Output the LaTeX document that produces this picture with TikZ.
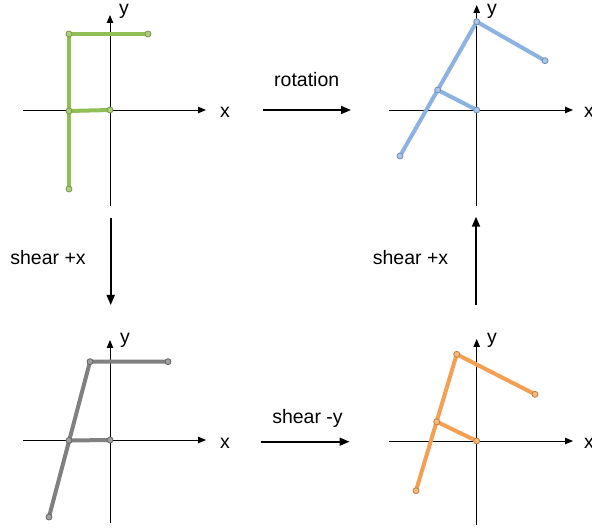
\documentclass[tikz,border=0pt]{standalone}
\usepackage{fontspec}
\setmainfont{Liberation Sans}
\usetikzlibrary{arrows.meta}
\definecolor{fgreen}{RGB}{146,190,86}
\definecolor{fblue}{RGB}{140,178,226}
\definecolor{forange}{RGB}{243,160,82}
\definecolor{fgray}{RGB}{128,128,128}
\begin{document}
\begin{tikzpicture}[x=1pt,y=-1pt,
  axis/.style={line width=0.9pt,-{Triangle[length=8pt,width=6.5pt]}},
  bigarrow/.style={line width=1.7pt,-{Triangle[length=10pt,width=8pt]}},
  fshape/.style={line width=4pt,line join=round,line cap=round},
  lbl/.style={font=\fontsize{19.5}{23}\selectfont,inner sep=0pt,anchor=base},
  dotf/.style={line width=0.8pt,draw=#1!80!black,fill=#1!75!white}]
\useasboundingbox (0,0) rectangle (592,529);
\fill[white] (0,0) rectangle (592,529);
% ---------- axes ----------
\coordinate (tlxa) at (23,110); \coordinate (tlxb) at (206,110);
\coordinate (tlya) at (110,206); \coordinate (tlyb) at (110,15);
\coordinate (trxa) at (389,110); \coordinate (trxb) at (573,110);
\coordinate (trya) at (476.7,206); \coordinate (tryb) at (476.7,5);
\coordinate (blxa) at (23,440); \coordinate (blxb) at (206,440);
\coordinate (blya) at (110,523); \coordinate (blyb) at (110,340);
\coordinate (brxa) at (389,441); \coordinate (brxb) at (573,441);
\coordinate (brya) at (476.7,525); \coordinate (bryb) at (476.7,339);
\foreach \p in {tl,tr,bl,br}{
  \draw[axis] (\p xa) -- (\p xb);
  \draw[axis] (\p ya) -- (\p yb);
}
\node[lbl] (tly) at (124,15) {y};
\node[lbl] (tlx) at (225,118) {x};
\node[lbl] (try) at (492,15) {y};
\node[lbl,anchor=base west] (trx) at (584,118) {x};
\node[lbl] (bly) at (125,344) {y};
\node[lbl] (blx) at (225,448) {x};
\node[lbl] (bry) at (492,344) {y};
\node[lbl,anchor=base west] (brx) at (584,448) {x};
% ---------- green F ----------
\coordinate (g1) at (69,189); \coordinate (g2) at (69,111); \coordinate (g3) at (69,34);
\coordinate (g4) at (148,34); \coordinate (g5) at (110,110);
\draw[fshape,fgreen] (g1) -- (g3) -- (g4);
\draw[fshape,fgreen] (g2) -- (g5);
\foreach \c in {g1,g2,g3,g4,g5} \draw[dotf=fgreen] (\c) circle (3);
% ---------- blue F ----------
\coordinate (b1) at (400,156); \coordinate (b2) at (437.7,90); \coordinate (b3) at (476.7,21.7);
\coordinate (b4) at (545,60.7); \coordinate (b5) at (476.7,110);
\draw[fshape,fblue] (b1) -- (b3) -- (b4);
\draw[fshape,fblue] (b2) -- (b5);
\foreach \c in {b1,b2,b3,b4,b5} \draw[dotf=fblue] (\c) circle (3);
% ---------- gray F ----------
\coordinate (k1) at (49,517); \coordinate (k2) at (69,440.5); \coordinate (k3) at (90,361.7);
\coordinate (k4) at (168,361.7); \coordinate (k5) at (110,440);
\draw[fshape,fgray] (k1) -- (k3) -- (k4);
\draw[fshape,fgray] (k2) -- (k5);
\foreach \c in {k1,k2,k3,k4,k5} \draw[dotf=fgray] (\c) circle (3);
% ---------- orange F ----------
\coordinate (o1) at (416,490.7); \coordinate (o2) at (436.7,421.7); \coordinate (o3) at (456.7,354.3);
\coordinate (o4) at (535,394.3); \coordinate (o5) at (476.7,441);
\draw[fshape,forange] (o1) -- (o3) -- (o4);
\draw[fshape,forange] (o2) -- (o5);
\foreach \c in {o1,o2,o3,o4,o5} \draw[dotf=forange] (\c) circle (3);
% ---------- transformation arrows ----------
\coordinate (ra) at (262.7,110); \coordinate (rb) at (351,110);
\draw[bigarrow] (ra) -- (rb);
\node[lbl] (rot) at (306.7,87) {rotation};
\coordinate (la) at (110.7,218); \coordinate (lb) at (110.7,305);
\draw[bigarrow] (la) -- (lb);
\node[lbl] (shl) at (48,265) {shear +x};
\coordinate (qa) at (476,305); \coordinate (qb) at (476,216.7);
\draw[bigarrow] (qa) -- (qb);
\node[lbl] (shr) at (410.5,265) {shear +x};
\coordinate (sa) at (260.7,441.7); \coordinate (sb) at (349.5,441.7);
\draw[bigarrow] (sa) -- (sb);
\node[lbl] (shy) at (307.5,423) {shear -y};
\end{tikzpicture}
\end{document}
